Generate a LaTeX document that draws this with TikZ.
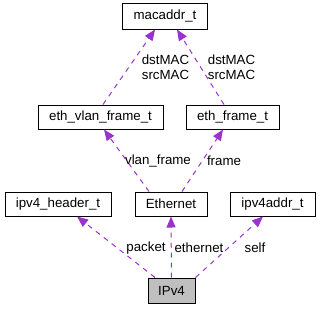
\documentclass[tikz,border=0pt]{standalone}
\usepackage{fontspec}
\setmainfont{Liberation Sans}
\usetikzlibrary{arrows.meta,calc}
\definecolor{edgecol}{HTML}{9A32CD}
\definecolor{selfcol}{HTML}{BFBFBF}
\begin{document}
\begin{tikzpicture}[x=1pt,y=-1pt,
  cls/.style={draw=black,line width=1pt,fill=white,minimum height=24pt,inner sep=0pt,
    font=\fontsize{13.3}{16}\selectfont},
  edge/.style={draw=edgecol,line width=1pt,dash pattern=on 5pt off 5pt,
    -{Triangle[length=11pt,width=9pt,fill=edgecol]}},
  lbl/.style={font=\fontsize{13.3}{15}\selectfont,align=center,inner sep=0pt}]
\useasboundingbox (0,0) rectangle (320,309);
% class boxes
\node[cls,minimum width=85pt,minimum height=26pt] (mac) at (165,16) {macaddr\_t};
\node[cls,minimum width=125pt] (vlan) at (100.5,117) {eth\_vlan\_frame\_t};
\node[cls,minimum width=93pt] (frm) at (232.5,117) {eth\_frame\_t};
\node[cls,minimum width=106pt] (hdr) at (58,204) {ipv4\_header\_t};
\node[cls,minimum width=72pt] (eth) at (171,204) {Ethernet};
\node[cls,minimum width=85pt] (addr) at (272.5,204) {ipv4addr\_t};
\node[cls,minimum width=47pt,minimum height=25pt,fill=selfcol] (ipv4) at (171.5,290.5) {IPv4};
% member relations
\draw[edge] ([xshift=2.5pt]vlan.north) -- ([xshift=-10pt]mac.south);
\draw[edge] ([xshift=-8.5pt]frm.north) -- ([xshift=12pt]mac.south);
\draw[edge] ([xshift=-22pt]eth.north) -- ([xshift=3.5pt]vlan.south);
\draw[edge] ([xshift=11pt]eth.north) -- ([xshift=-9.5pt]frm.south);
\draw[edge] ([xshift=-16.5pt]ipv4.north) -- ([xshift=19pt]hdr.south);
\draw[edge] (ipv4.north) -- (eth.south);
\draw[edge] (ipv4.north east) -- ([xshift=-9.5pt]addr.south);
% relation labels
\node[lbl] (l1) at (165.5,67) {dstMAC\\srcMAC};
\node[lbl] (l2) at (231.5,67) {dstMAC\\srcMAC};
\node[lbl] (l3) at (158,161) {vlan\_frame};
\node[lbl] (l4) at (224,161) {frame};
\node[lbl] (l5) at (146,248) {packet};
\node[lbl] (l6) at (199,248) {ethernet};
\node[lbl] (l7) at (255,248) {self};
\end{tikzpicture}
\end{document}
